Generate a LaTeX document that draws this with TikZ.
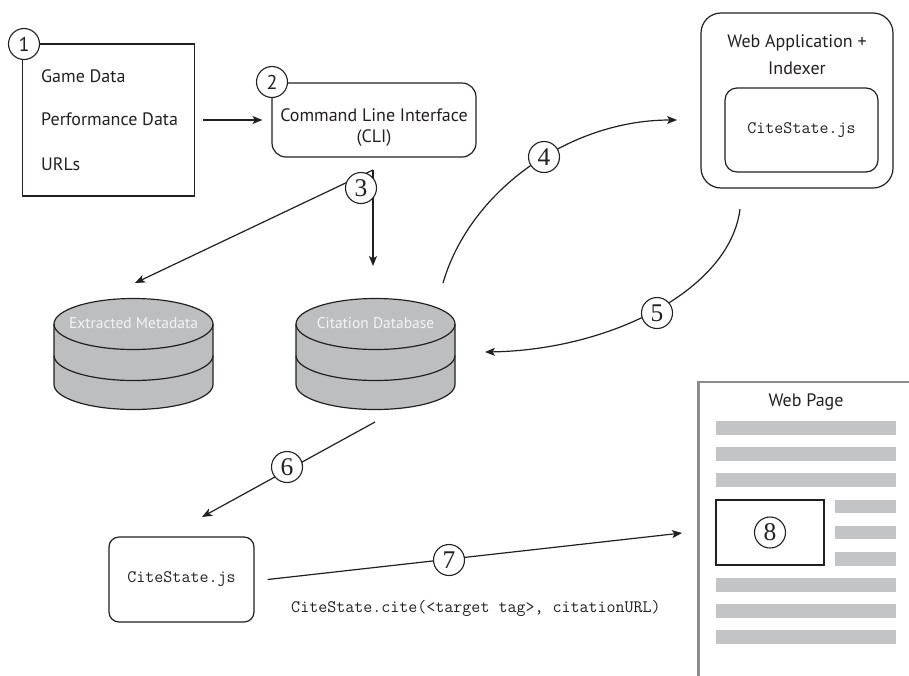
\documentclass[tikz,border=0pt]{standalone}
\usepackage{fontspec}
\setmainfont{PT Sans}
\newfontfamily\numserif{Liberation Serif}
\usetikzlibrary{arrows.meta}
\definecolor{ink}{HTML}{231F20}
\definecolor{dbgray}{HTML}{BCBEC0}
\definecolor{bargray}{HTML}{C3C4C6}
\definecolor{dbtxt}{HTML}{F4F4F4}
\definecolor{pageline}{HTML}{8C8C8C}
\newcommand\dbcyl[3]{% #1 = cx, #2 = name, #3 = label
  \fill[dbgray] ({#1-79.5},324) -- ({#1-79.5},384.5)
     arc[start angle=180,end angle=360,x radius=79.5pt,y radius=25pt]
     -- ({#1+79.5},324) arc[start angle=0,end angle=180,x radius=79.5pt,y radius=25pt] -- cycle;
  \draw[draw=ink,line width=1.2pt] ({#1-79.5},324) -- ({#1-79.5},384.5)
     arc[start angle=180,end angle=360,x radius=79.5pt,y radius=25pt]
     -- ({#1+79.5},324);
  \draw[draw=ink,line width=1.2pt] ({#1-79.5},355.5)
     arc[start angle=180,end angle=360,x radius=79.5pt,y radius=25pt];
  \draw[draw=ink,line width=1.2pt] (#1,324) ellipse[x radius=79.5pt,y radius=25.5pt];
  \node[dbtext] (#2) at (#1,323) {#3};
}
\begin{document}
\begin{tikzpicture}[x=1pt,y=-1pt,
  arr/.style={draw=ink,line width=1.2pt,-{Stealth[length=10pt,width=8pt,inset=2.5pt]}},
  num/.style={circle,draw=ink,fill=white,line width=1.1pt,minimum size=31pt,inner sep=0pt,text=ink,font=\numserif\fontsize{25.5}{25.5}\selectfont},
  numsans/.style={num,font=\fontsize{20}{20}\selectfont},
  sans/.style={text=ink,font=\fontsize{18}{21}\selectfont,inner sep=0pt},
  mono/.style={text=ink,font=\ttfamily\fontsize{17.5}{20}\selectfont},
  dbtext/.style={text=dbtxt,font=\fontsize{15.5}{18}\selectfont,inner sep=0pt},
  boxline/.style={draw=ink,line width=1.2pt,inner sep=0pt},
]
\useasboundingbox (0,0) rectangle (909,675);
\clip (0,0) rectangle (909,675);

% --- 1: inputs box
\node[boxline,line width=1.3pt,minimum width=172pt,minimum height=152pt] (inputs) at (108.5,120) {};
\node[sans,anchor=west] (game) at (41,76) {Game Data};
\node[sans,anchor=west] (perf) at (41,119) {Performance Data};
\node[sans,anchor=west] (urls) at (41,164) {URLs};
\node[numsans] (n1) at (24,44) {1};

% --- 2: CLI
\node[boxline,rounded corners=14pt,minimum width=204pt,minimum height=74pt] (cli) at (374,120) {};
\node[sans] (clitext1) at (374,115) {Command Line Interface};
\node[sans] (clitext2) at (374,138) {(CLI)};
\node[numsans] (n2) at (272,82) {2};

\draw[arr] ([xshift=8pt]inputs.east) -- ([xshift=-9pt]cli.west);

% --- databases
\dbcyl{133.5}{extracted}{Extracted Metadata}
\dbcyl{375.5}{citedb}{Citation Database}

% --- 3
\coordinate (split) at (373,170);
\coordinate (emtip) at (135,283);
\coordinate (cdtip) at (373,266);
\draw[arr] (split) -- (emtip);
\draw[arr] (split) -- (cdtip);
\node[num] (n3) at (361,188) {3};

% --- web application
\node[boxline,rounded corners=20pt,minimum width=192pt,minimum height=175pt] (webapp) at (797,100.5) {};
\node[sans] (wa1) at (797,43) {Web Application +};
\node[sans] (wa2) at (797,68) {Indexer};
\node[boxline,rounded corners=12pt,minimum width=153pt,minimum height=84pt,mono] (cs2) at (801.5,130) {CiteState.js};

% --- 4 and 5
\coordinate (c4s) at (443,283);
\coordinate (c4e) at (677,120);
\draw[arr] (c4s) .. controls (470,190) and (570,120) .. (c4e);
\node[num] (n4) at (544,157) {4};
\coordinate (c5s) at (740,209);
\coordinate (c5e) at (485,352);
\draw[arr] (c5s) .. controls (730,290) and (610,350) .. (c5e);
\node[num] (n5) at (657,313) {5};

% --- CiteState.js box and 6
\node[boxline,rounded corners=10pt,minimum width=145pt,minimum height=85pt,mono] (csjs) at (181.5,579.5) {CiteState.js};
\coordinate (c6s) at (375,422);
\coordinate (c6e) at (202,517);
\draw[arr] (c6s) -- (c6e);
\node[num] (n6) at (287,467) {6};

% --- web page
\node[draw=pageline,line width=2.5pt,minimum width=260pt,minimum height=400pt,anchor=north west,inner sep=0pt] (webpage) at (697,380.5) {};
\node[sans] (wptitle) at (806,402) {Web Page};
\foreach \yy in {427.8,454,480,585,611,637}
  \fill[bargray] (716,\yy-6.7) rectangle (896,\yy+6.7);
\foreach \yy in {506.7,532.7,559}
  \fill[bargray] (834.5,\yy-6.7) rectangle (896,\yy+6.7);
\node[boxline,minimum width=108pt,minimum height=65pt] (imgbox) at (770,532.5) {};
\node[num] (n8) at (770,532.5) {8};

% --- 7
\coordinate (c7e) at (682,533);
\draw[arr] ([xshift=13pt]csjs.east) -- (c7e);
\node[num] (n7) at (449,560) {7};
\node[mono] (code) at (476,608) {CiteState.cite(<target tag>, citationURL)};
\end{tikzpicture}
\end{document}
